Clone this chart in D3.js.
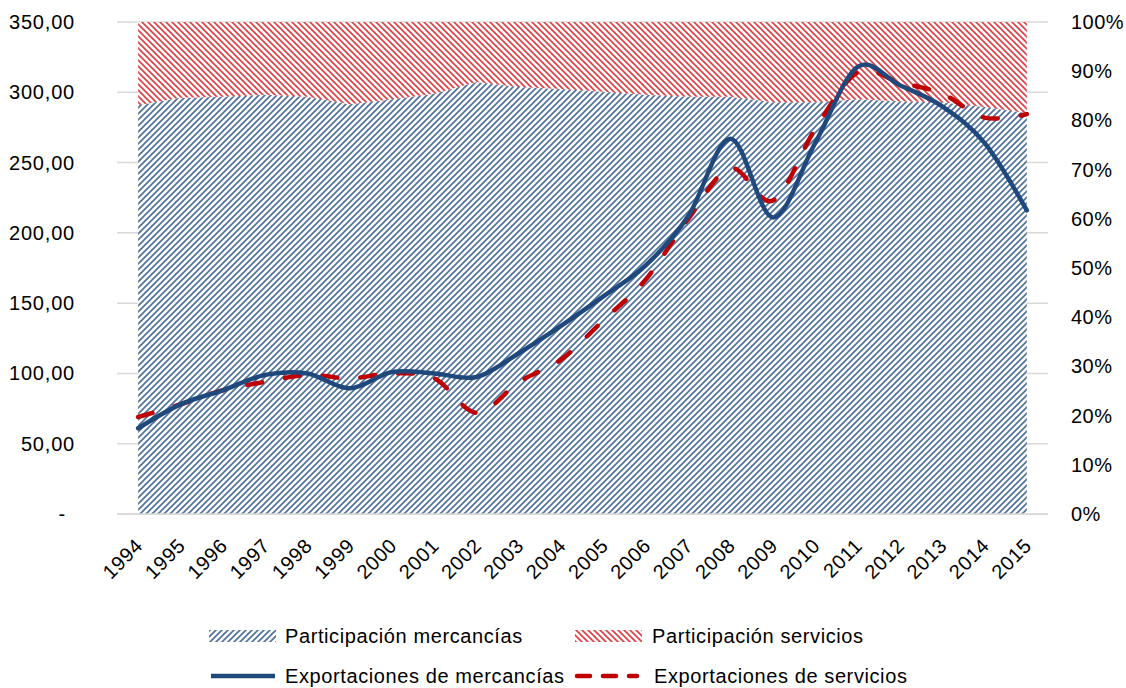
<!DOCTYPE html>
<html><head><meta charset="utf-8">
<script src="https://cdn.jsdelivr.net/npm/d3@7"></script>
<style>body{margin:0;background:#fff}svg{display:block}text{font-family:"Liberation Sans",Arial,sans-serif;fill:#000}</style>
</head><body>
<svg id="c" width="1126" height="688"></svg>
<script>
const years = ["1994","1995","1996","1997","1998","1999","2000","2001","2002","2003","2004","2005","2006","2007","2008","2009","2010","2011","2012","2013","2014","2015"];
const exportMerc = [61, 78, 88, 99, 100, 89.5, 101, 100, 97.5, 114.5, 134, 155, 177, 212, 267, 211, 264, 318, 305, 290, 264, 216];
const exportServ = [69, 78, 88, 94, 99, 96.5, 100, 96.5, 72, 94, 110, 138, 167, 210, 246, 223, 274, 314, 307, 299, 282, 284.5];
const partMerc = [83.1, 84.6, 84.8, 85.2, 84.8, 83.3, 84.3, 85.4, 87.8, 86.8, 86.4, 85.8, 85.2, 84.8, 84.8, 83.7, 83.7, 84.3, 83.9, 83.7, 82.7, 81.5];
const partServ = partMerc.map(v => 100 - v);
const leftTicks = [0, 50, 100, 150, 200, 250, 300, 350];
const rightTicks = [0, 10, 20, 30, 40, 50, 60, 70, 80, 90, 100];

const svg = d3.select("#c");
const x = d3.scalePoint().domain(years).range([117, 1048]).padding(0.5);
const yL = d3.scaleLinear().domain([0, 350]).range([514, 22]);
const yR = d3.scaleLinear().domain([0, 100]).range([514, 22]);

const defs = svg.append("defs");
const pb = defs.append("pattern").attr("id","hb").attr("patternUnits","userSpaceOnUse").attr("width",6).attr("height",6);
pb.append("rect").attr("width",6).attr("height",6).attr("fill","#fff");
pb.append("path").attr("d","M-1,1 l2,-2 M0,6 l6,-6 M5,7 l2,-2").attr("stroke","#4f719c").attr("stroke-width",1.7);
const pr = defs.append("pattern").attr("id","hr").attr("patternUnits","userSpaceOnUse").attr("width",6).attr("height",6);
pr.append("rect").attr("width",6).attr("height",6).attr("fill","#fff");
pr.append("path").attr("d","M-1,5 l2,2 M0,0 l6,6 M5,-1 l2,2").attr("stroke","#df4146").attr("stroke-width",1.7);

// gridlines
svg.append("g").selectAll("line").data(leftTicks).join("line")
  .attr("x1",117).attr("x2",1048).attr("y1",d=>yL(d)).attr("y2",d=>yL(d))
  .attr("stroke","#d9d9d9").attr("stroke-width",1.5);

// areas
const idx = years.map((d,i)=>i);
svg.append("path").datum(idx)
  .attr("d", d3.area().x(i=>x(years[i])).y0(yR(0)).y1(i=>yR(partMerc[i])))
  .attr("fill","url(#hb)");
svg.append("path").datum(idx)
  .attr("d", d3.area().x(i=>x(years[i])).y0(i=>yR(partMerc[i])).y1(i=>yR(partMerc[i]+partServ[i])))
  .attr("fill","url(#hr)");

// baseline
svg.append("line").attr("x1",117).attr("x2",1048).attr("y1",yL(0)).attr("y2",yL(0)).attr("stroke","#d9d9d9").attr("stroke-width",1.5);

// lines
const curve = d3.curveCardinal.tension(0);
svg.append("path").datum(idx)
  .attr("d", d3.line().x(i=>x(years[i])).y(i=>yL(exportServ[i])).curve(curve))
  .attr("fill","none").attr("stroke","#c00000").attr("stroke-width",4.5)
  .attr("stroke-dasharray","15,23").attr("stroke-linecap","round");
svg.append("path").datum(idx)
  .attr("d", d3.line().x(i=>x(years[i])).y(i=>yL(exportMerc[i])).curve(curve))
  .attr("fill","none").attr("stroke","#1f497d").attr("stroke-width",4.5).attr("stroke-linecap","round");

// left axis labels
const fmt = v => v === 0 ? "-" : d3.format(".2f")(v).replace(".", ",");
svg.append("g").selectAll("text").data(leftTicks).join("text")
  .attr("x", d => d === 0 ? 66 : 75).attr("y", d=>yL(d)).attr("dy","0.35em")
  .attr("text-anchor","end").attr("font-size",20).attr("letter-spacing",0.8).text(fmt);
// right axis labels
svg.append("g").selectAll("text").data(rightTicks).join("text")
  .attr("x",1071).attr("y", d=>yR(d)).attr("dy","0.35em")
  .attr("text-anchor","start").attr("font-size",20).attr("letter-spacing",0.5).text(d=>d+"%");
// x labels
svg.append("g").selectAll("text").data(years).join("text")
  .attr("transform", d=>`translate(${x(d)+6},547) rotate(-45)`)
  .attr("text-anchor","end").attr("font-size",20).attr("letter-spacing",0.6).text(d=>d);

// legend
const lg = svg.append("g").attr("font-size",20).attr("letter-spacing",0.6);
lg.append("rect").attr("x",209).attr("y",630).attr("width",67).attr("height",12).attr("fill","url(#hb)");
lg.append("text").attr("x",285).attr("y",636).attr("dy","0.35em").text("Participación mercancías");
lg.append("rect").attr("x",575).attr("y",630).attr("width",67).attr("height",12).attr("fill","url(#hr)");
lg.append("text").attr("x",652).attr("y",636).attr("dy","0.35em").text("Participación servicios");
lg.append("line").attr("x1",211).attr("x2",275).attr("y1",676).attr("y2",676).attr("stroke","#1f497d").attr("stroke-width",4.5);
lg.append("text").attr("x",285).attr("y",676).attr("dy","0.35em").text("Exportaciones de mercancías");
lg.append("line").attr("x1",577).attr("x2",637).attr("y1",676).attr("y2",676).attr("stroke","#c00000").attr("stroke-width",4.5)
  .attr("stroke-dasharray","13,13").attr("stroke-linecap","round");
lg.append("text").attr("x",654).attr("y",676).attr("dy","0.35em").text("Exportaciones de servicios");
</script>
</body></html>
